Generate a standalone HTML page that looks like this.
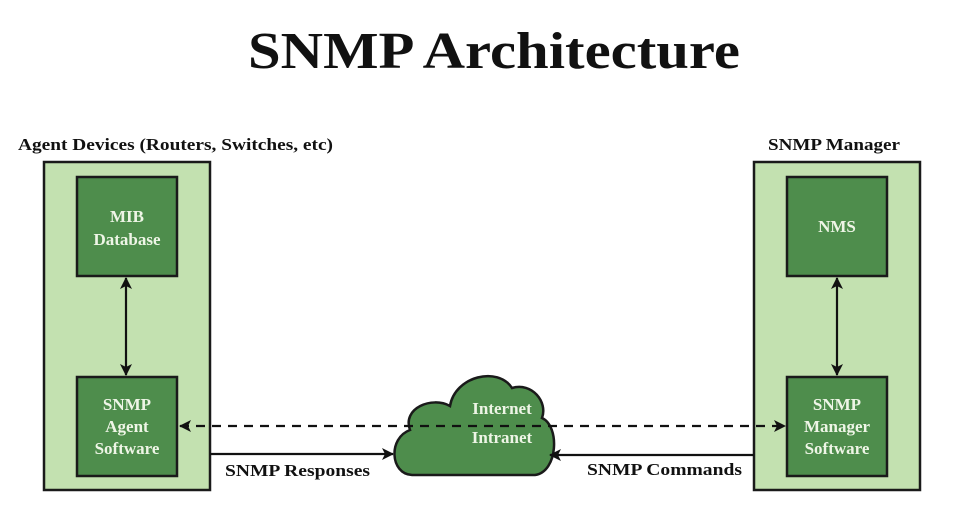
<!DOCTYPE html>
<html><head><style>
body{margin:0;background:#fff;width:960px;height:522px;overflow:hidden}
text{font-family:"Liberation Serif",serif;font-weight:bold}
</style></head><body>
<svg width="960" height="522" viewBox="0 0 960 522">
<defs>
<marker id="a" markerWidth="12" markerHeight="12" refX="11" refY="6" orient="auto-start-reverse" markerUnits="userSpaceOnUse"><path d="M0,0 L12,6 L0,12 L3,6 Z" fill="#111"/></marker>
</defs>
<text x="248" y="68" font-size="52" textLength="492" lengthAdjust="spacingAndGlyphs" fill="#111">SNMP Architecture</text>
<text x="18" y="150" font-size="17" textLength="315" lengthAdjust="spacingAndGlyphs" fill="#111">Agent Devices (Routers, Switches, etc)</text>
<text x="768" y="150" font-size="17" textLength="132" lengthAdjust="spacingAndGlyphs" fill="#111">SNMP Manager</text>
<rect x="44" y="162" width="166" height="328" fill="#c3e1b0" stroke="#1a1a1a" stroke-width="2.5"/>
<rect x="754" y="162" width="166" height="328" fill="#c3e1b0" stroke="#1a1a1a" stroke-width="2.5"/>
<g fill="#4e8d4c" stroke="#1a1a1a" stroke-width="2.5">
<rect x="77" y="177" width="100" height="99"/>
<rect x="77" y="377" width="100" height="99"/>
<rect x="787" y="177" width="100" height="99"/>
<rect x="787" y="377" width="100" height="99"/>
<path d="M412,475 C390,474 388,438 410,430 C402,408 432,396 450,406 C455,376 498,366 512,388 C532,382 548,402 542,418 C560,426 558,472 535,475 Z"/>
</g>
<g fill="#eef5e6" font-size="17" text-anchor="middle">
<text x="127" y="222">MIB</text><text x="127" y="245">Database</text>
<text x="127" y="410">SNMP</text><text x="127" y="432">Agent</text><text x="127" y="454">Software</text>
<text x="837" y="232">NMS</text>
<text x="837" y="410">SNMP</text><text x="837" y="432">Manager</text><text x="837" y="454">Software</text>
<text x="502" y="414">Internet</text><text x="502" y="443">Intranet</text>
</g>
<g stroke="#111" stroke-width="2.2" fill="none">
<line x1="126" y1="278" x2="126" y2="375" marker-start="url(#a)" marker-end="url(#a)"/>
<line x1="837" y1="278" x2="837" y2="375" marker-start="url(#a)" marker-end="url(#a)"/>
<line x1="180" y1="426" x2="785" y2="426" stroke-dasharray="9,7" marker-start="url(#a)" marker-end="url(#a)"/>
<line x1="210" y1="454" x2="393" y2="454" marker-end="url(#a)"/>
<line x1="754" y1="455" x2="550" y2="455" marker-end="url(#a)"/>
</g>
<text x="225" y="476" font-size="17" textLength="145" lengthAdjust="spacingAndGlyphs" fill="#111">SNMP Responses</text>
<text x="587" y="475" font-size="17" textLength="155" lengthAdjust="spacingAndGlyphs" fill="#111">SNMP Commands</text>
</svg>
</body></html>
